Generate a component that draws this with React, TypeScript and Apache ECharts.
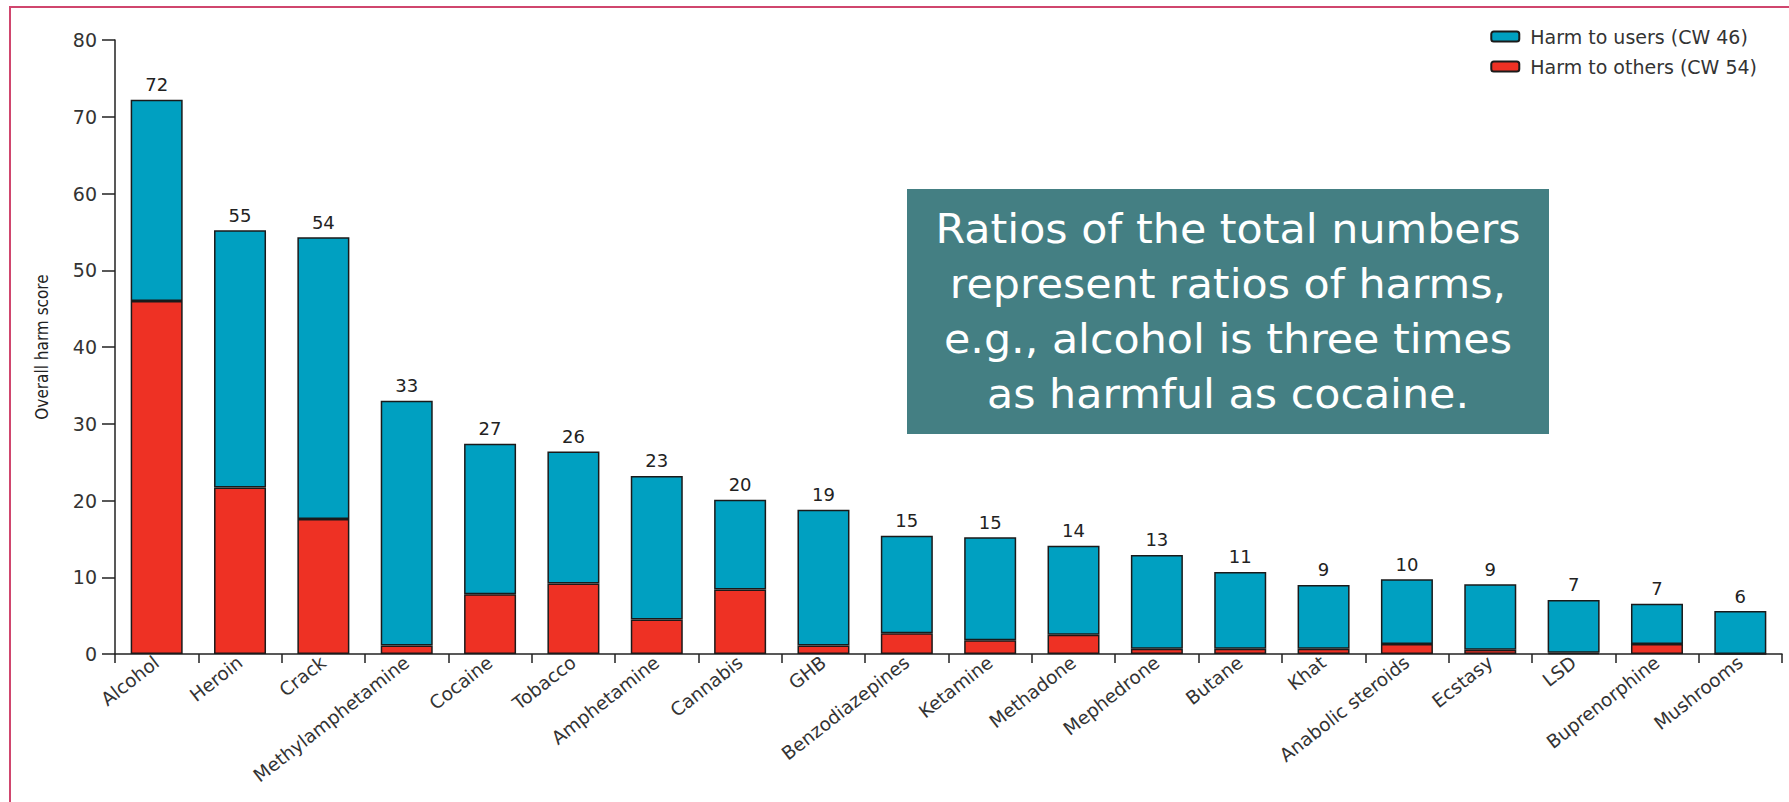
import React, { useEffect, useRef } from "react";
import * as echarts from "echarts";

const categories = [
  "Alcohol", "Heroin", "Crack", "Methylamphetamine", "Cocaine", "Tobacco",
  "Amphetamine", "Cannabis", "GHB", "Benzodiazepines", "Ketamine", "Methadone",
  "Mephedrone", "Butane", "Khat", "Anabolic steroids", "Ecstasy", "LSD",
  "Buprenorphine", "Mushrooms",
];
const harmToOthers = [46, 21.7, 17.6, 1.1, 7.8, 9.2, 4.5, 8.4, 1.1, 2.7, 1.8, 2.5, 0.7, 0.7, 0.7, 1.3, 0.55, 0.15, 1.3, 0];
const harmToUsers = [26.2, 33.5, 36.7, 31.9, 19.6, 17.2, 18.7, 11.7, 17.7, 12.7, 13.4, 11.6, 12.2, 10.0, 8.3, 8.45, 8.55, 6.9, 5.25, 5.6];
const totalLabels = [72, 55, 54, 33, 27, 26, 23, 20, 19, 15, 15, 14, 13, 11, 9, 10, 9, 7, 7, 6];
const seriesNames = ["Harm to users (CW 46)", "Harm to others (CW 54)"];
const noteLines = [
  "Ratios of the total numbers",
  "represent ratios of harms,",
  "e.g., alcohol is three times",
  "as harmful as cocaine.",
];

const FONT = "'DejaVu Sans', sans-serif";
const NARROW = "'Liberation Sans Narrow', 'DejaVu Sans Condensed', sans-serif";

export default function App() {
  const ref = useRef<HTMLDivElement>(null);
  useEffect(() => {
    if (!ref.current) return;
    const chart = echarts.init(ref.current, null, { renderer: "svg" });
    chart.setOption({
      animation: false,
      backgroundColor: "#ffffff",
      grid: { left: 115, right: 7, top: 40, bottom: 148, containLabel: false },
      legend: {
        data: seriesNames,
        orient: "vertical",
        right: 32,
        top: 27,
        padding: 0,
        itemWidth: 28,
        itemHeight: 10,
        itemGap: 11,
        textStyle: { fontFamily: FONT, fontSize: 19, color: "#333", padding: [0, 0, 0, 6] },
      },
      xAxis: {
        type: "category",
        data: categories,
        boundaryGap: true,
        axisLine: { show: true, lineStyle: { color: "#222", width: 1.5 } },
        axisTick: { show: true, length: 9, interval: 0, lineStyle: { color: "#222", width: 1.5 } },
        axisLabel: { interval: 0, rotate: 38, margin: 6, fontFamily: FONT, fontSize: 18.5, color: "#333" },
      },
      yAxis: {
        type: "value",
        min: 0,
        max: 80,
        interval: 10,
        name: "Overall harm score",
        nameLocation: "middle",
        nameGap: 65,
        nameTextStyle: { fontFamily: NARROW, fontSize: 17, color: "#222" },
        splitLine: { show: false },
        axisLine: { show: true, lineStyle: { color: "#222", width: 1.5 } },
        axisTick: { show: true, length: 13, lineStyle: { color: "#222", width: 1.5 } },
        axisLabel: { margin: 18, fontFamily: FONT, fontSize: 19, color: "#333" },
      },
      series: [
        {
          name: seriesNames[1],
          type: "bar",
          stack: "harm",
          barWidth: 52,
          data: harmToOthers,
          itemStyle: { color: "#EE3124", borderColor: "#1a1a1a", borderWidth: 1.5 },
        },
        {
          name: seriesNames[0],
          type: "bar",
          stack: "harm",
          barWidth: 52,
          data: harmToUsers,
          itemStyle: { color: "#00A0C1", borderColor: "#1a1a1a", borderWidth: 1.5 },
          label: {
            show: true,
            position: "top",
            distance: 6,
            formatter: (p: any) => String(totalLabels[p.dataIndex]),
            fontFamily: FONT,
            fontSize: 18,
            color: "#222",
          },
        },
      ],
      graphic: [
        {
          type: "rect",
          shape: { x: 10, y: 7, width: 1900, height: 900 },
          style: { fill: "none", stroke: "#D0466E", lineWidth: 2 },
          silent: true,
        },
        {
          type: "rect",
          shape: { x: 907, y: 189, width: 642, height: 245 },
          style: { fill: "#447F83" },
          silent: true,
        },
        {
          type: "text",
          x: 1228,
          y: 312,
          scaleX: 1.07,
          style: {
            text: noteLines.join("\n"),
            fill: "#ffffff",
            font: `40px ${FONT}`,
            lineHeight: 55,
            align: "center",
            verticalAlign: "middle",
          },
          silent: true,
        },
      ],
    });
    return () => chart.dispose();
  }, []);
  return (
    <div
      ref={ref}
      style={{ position: "fixed", left: 0, top: 0, width: 1789, height: 802 }}
    />
  );
}
